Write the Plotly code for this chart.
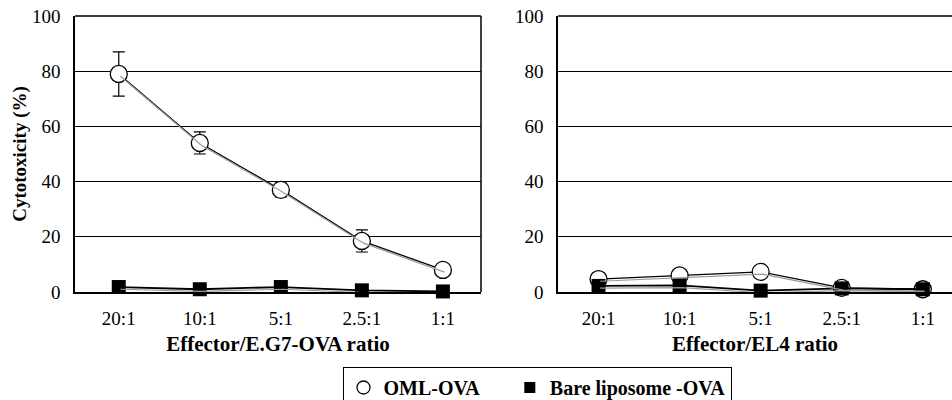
import plotly.graph_objects as go

ratios = ["20:1", "10:1", "5:1", "2.5:1", "1:1"]

# Left panel: Effector/E.G7-OVA
eg7_oml = [79, 54, 37, 18.5, 8]
eg7_oml_err = [8, 4, 2.5, 4, 1]
eg7_bare = [1.8, 1.0, 1.8, 0.6, 0.2]
eg7_bare_err = [1, 1.5, 1, 0.5, 0.5]

# Right panel: Effector/EL4
el4_oml = [4.7, 6.0, 7.3, 1.5, 1.0]
el4_oml_err = [1, 1, 1, 0.5, 0.5]
el4_bare = [2.2, 2.4, 0.5, 1.3, 1.0]
el4_bare_err = [1, 1, 0.5, 0.5, 0.5]

yticks = [0, 20, 40, 60, 80, 100]

FONT = "Liberation Serif, Times New Roman, serif"
NB = "\u00a0"
fig = go.Figure()

def add_panel(xa, ya, xs, ya_s, oml, oml_err, bare, bare_err):
    # faint grey shadow lines
    for vals in (oml, bare):
        fig.add_trace(go.Scatter(x=ratios, y=vals, mode="lines", xaxis=xs, yaxis=ya_s,
                                 line=dict(color="#9a9a9a", width=1.2), showlegend=False,
                                 hoverinfo="skip", cliponaxis=False))
    fig.add_trace(go.Scatter(x=ratios, y=oml, mode="lines+markers", xaxis=xa, yaxis=ya,
                             line=dict(color="black", width=1.3),
                             marker=dict(symbol="circle", size=17, color="white",
                                         line=dict(color="black", width=1.3)),
                             error_y=dict(type="data", array=oml_err, color="black", thickness=1.2, width=6),
                             showlegend=False, cliponaxis=False))
    fig.add_trace(go.Scatter(x=ratios, y=bare, mode="lines+markers", xaxis=xa, yaxis=ya,
                             line=dict(color="black", width=1.8),
                             marker=dict(symbol="square", size=14, color="black"),
                             error_y=dict(type="data", array=bare_err, color="black", thickness=1, width=5),
                             showlegend=False, cliponaxis=False))

add_panel("x", "y", "x3", "y3", eg7_oml, eg7_oml_err, eg7_bare, eg7_bare_err)
add_panel("x2", "y2", "x4", "y4", el4_oml, el4_oml_err, el4_bare, el4_bare_err)

# legend-only entries
fig.add_trace(go.Scatter(x=[None], y=[None], mode="markers", name="OML-OVA" + NB * 5,
                         marker=dict(symbol="circle-open", size=13, color="black", line=dict(width=1.3))))
fig.add_trace(go.Scatter(x=[None], y=[None], mode="markers", name="Bare liposome -OVA",
                         marker=dict(symbol="square", size=11, color="black")))

W, H = 952, 400
ml, mr, mt, mb = 75, 0, 16, 108
pw = W - ml - mr
d1 = [0, (481 - ml) / pw]
d2 = [(558 - ml) / pw, 1]

tickfont = dict(family=FONT, size=19, color="black")
xtitlefont = dict(family=FONT, size=21, color="black", weight="bold")
ytitlefont = dict(family=FONT, size=19, color="black", weight="bold")

xcommon = dict(type="category", showgrid=False, zeroline=False, tickfont=tickfont,
               ticks="outside", ticklen=8, tickcolor="rgba(0,0,0,0)", automargin=False,
               showline=True, linecolor="black", linewidth=1.5)
ycommon = dict(range=[0, 100], tickvals=yticks, showgrid=True, gridcolor="black", gridwidth=1,
               zeroline=False, tickfont=tickfont, showline=True, linecolor="black", linewidth=1.5,
               ticks="", ticklabelstandoff=9, automargin=False)

fig.update_layout(
    width=W, height=H, margin=dict(l=ml, r=mr, t=mt, b=mb, autoexpand=False),
    paper_bgcolor="white", plot_bgcolor="white",
    xaxis=dict(domain=d1, range=[-0.54, 4.47], anchor="y",
               title=dict(text="Effector/E.G7-OVA ratio", font=xtitlefont, standoff=9), **xcommon),
    yaxis=dict(domain=[0, 1], anchor="x",
               title=dict(text="Cytotoxicity (%)", font=ytitlefont, standoff=0), **ycommon),
    xaxis2=dict(domain=d2, range=[-0.5, 4.36], anchor="y2",
                title=dict(text="Effector/EL4 ratio", font=xtitlefont, standoff=9), **xcommon),
    yaxis2=dict(domain=[0, 1], anchor="x2", **ycommon),
    xaxis3=dict(domain=d1, range=[-0.56, 4.45], type="category", overlaying="x", visible=False, anchor="y3"),
    yaxis3=dict(domain=[0, 1], range=[0.8, 100.8], overlaying="y", visible=False, anchor="x3"),
    xaxis4=dict(domain=d2, range=[-0.52, 4.34], type="category", overlaying="x2", visible=False, anchor="y4"),
    yaxis4=dict(domain=[0, 1], range=[0.8, 100.8], overlaying="y2", visible=False, anchor="x4"),
    legend=dict(orientation="h", x=537 / W, xref="container", xanchor="center",
                y=(H - 367) / H, yref="container", yanchor="top",
                bordercolor="black", borderwidth=1, bgcolor="white",
                font=dict(family=FONT, size=20, color="black", weight="bold"),
                itemwidth=30),
    showlegend=True,
)

# borders
fig.add_shape(type="line", xref="x domain", yref="y domain", x0=1, x1=1, y0=0, y1=1,
              line=dict(color="black", width=1.5))
fig.add_shape(type="line", xref="x2 domain", yref="y2 domain", x0=0, x1=1, y0=1, y1=1,
              line=dict(color="black", width=1.5))
fig.add_shape(type="line", xref="x domain", yref="y domain", x0=0, x1=1, y0=1, y1=1,
              line=dict(color="black", width=1.5))

fig.write_html("out.html", config={"displayModeBar": False},
               post_script="document.body.style.margin='0';")
